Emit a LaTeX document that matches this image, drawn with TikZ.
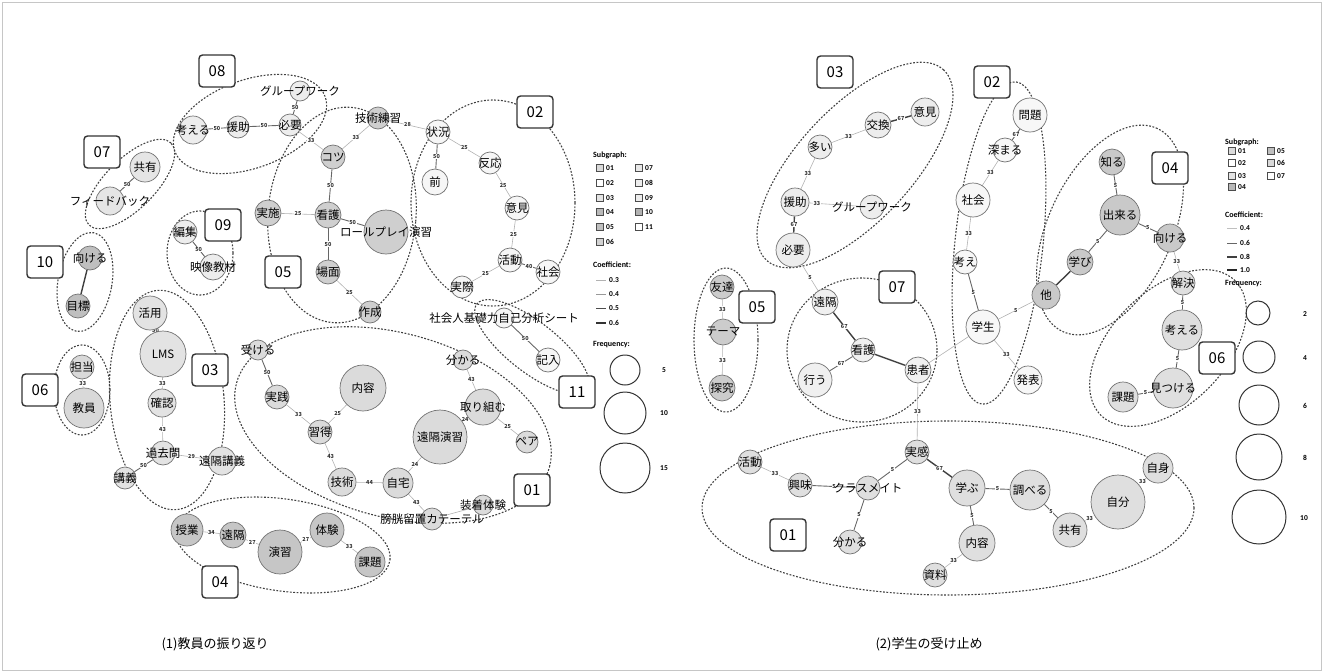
\documentclass[tikz,border=0pt]{standalone}
\usepackage{fontspec}
\setmainfont{Noto Sans CJK JP}
\newfontfamily\legfont{Carlito}
\pgfdeclarelayer{ell}
\pgfdeclarelayer{edges}
\pgfsetlayers{ell,edges,main}
\colorlet{L01}{gray!28}\colorlet{L02}{gray!7}\colorlet{L03}{gray!22}\colorlet{L04}{gray!45}
\colorlet{L05}{gray!38}\colorlet{L06}{gray!30}\colorlet{L07}{gray!20}\colorlet{L08}{gray!14}
\colorlet{L09}{gray!14}\colorlet{L10}{gray!50}\colorlet{L11}{gray!7}
\colorlet{R01}{gray!25}\colorlet{R02}{gray!6}\colorlet{R03}{gray!14}\colorlet{R04}{gray!42}
\colorlet{R05}{gray!40}\colorlet{R06}{gray!25}\colorlet{R07}{gray!12}
\tikzset{
 v/.style={circle, draw=black!55, line width=0.7pt, inner sep=0pt, font=\fontsize{11.5}{11.5}\selectfont},
 grp/.style={draw=black!75, line width=1.1pt, dash pattern=on 1.8pt off 1.6pt},
 gbox/.style={draw=black!80, line width=1.4pt, rounded corners=3.5pt, fill=white, minimum width=36pt, minimum height=32pt, inner sep=0pt, font=\fontsize{15}{15}\selectfont},
 ew/.style={draw=gray!60, line width=0.6pt},
 em/.style={draw=black!60, line width=0.9pt},
 es/.style={draw=black!75, line width=1.4pt},
 elab/.style={font=\fontsize{5.5}{5.5}\selectfont\bfseries, fill=white, inner sep=0.5pt, text=black!80},
 sq/.style={draw=black!70, line width=0.6pt, minimum size=7pt, inner sep=0pt},
 lgh/.style={anchor=west, inner sep=0pt, font=\legfont\fontsize{8}{8}\selectfont\bfseries},
 lgt/.style={anchor=west, inner sep=0pt, font=\legfont\fontsize{7.5}{7.5}\selectfont\bfseries},
 fc/.style={circle, draw=black!80, line width=1pt, inner sep=0pt},
}
\newcommand\V[6]{\node[v, fill=#5, minimum size=#4*2pt] (#1) at (#2,-#3) {\makebox[0pt]{#6}};}
\newcommand\B[4]{\node[gbox] (#1) at (#2,-#3) {#4};}
\newcommand\G[5]{\draw[grp, rotate around={#5:(#1,-#2)}] (#1,-#2) ellipse [x radius=#3pt, y radius=#4pt];}
\newcommand\E[4][ew]{\draw[#1] (#2) -- node[elab]{#4} (#3);}
\newcommand\EN[3][ew]{\draw[#1] (#2) -- (#3);}
\newcommand\LS[5]{\node[sq, fill=#4] (#1) at (#2,-#3) {};\node[lgt] (#1t) at (#2+6,-#3) {#5};}
\begin{document}
\begin{tikzpicture}[x=1pt,y=1pt]
\useasboundingbox (0,0) rectangle (1323,-672);
\draw[gray!45, line width=0.8pt] (2,-2) rectangle (1321,-670);

\begin{pgfonlayer}{ell}
\G{250}{124}{80}{44}{20}
\G{130}{184}{58}{25}{45}
\G{85}{282}{27}{50}{-10}
\G{200}{253}{33}{42}{0}
\G{82}{390}{28}{45}{0}
\G{167}{400}{57}{110}{5}
\G{342}{215}{74}{108}{-5}
\G{493}{203}{82}{103}{0}
\G{532}{347}{70}{25}{-38}
\G{393}{425}{162}{92}{-15}
\G{283}{545}{108}{46}{-8}
\G{855}{165}{130}{57}{47}
\G{726}{340}{32}{72}{0}
\G{862}{350}{75}{72}{0}
\G{999}{243}{44}{162}{-6}
\G{1110}{230}{112}{62}{65}
\G{1168}{348}{95}{57}{45}
\G{948}{508}{246}{87}{0}
\end{pgfonlayer}

% ---------------- LEFT GRAPH ----------------
\V{Lkangaeru}{193}{130}{14}{L08}{考える}
\V{Lenjo}{238}{127}{11}{L08}{援助}
\V{Lhitsuyo}{290}{125}{11}{L08}{必要}
\V{Lgw}{300}{91}{10}{L08}{グループワーク}
\V{Lkyoyu}{145}{167}{15}{L07}{共有}
\V{Lfb}{110}{201}{14}{L07}{フィードバック}
\V{Lmukeru}{90}{258}{12}{L10}{向ける}
\V{Lmokuhyo}{78}{306}{12}{L10}{目標}
\V{Lhenshu}{185}{232}{12}{L09}{編集}
\V{Leizo}{213}{267}{13}{L09}{映像教材}
\V{Ltanto}{82}{367}{12}{L06}{担当}
\V{Lkyoin}{84}{408}{20}{L06}{教員}
\V{Lkatsuyo}{150}{313}{17}{L03}{活用}
\V{Llms}{163}{354}{23}{L03}{LMS}
\V{Lkakunin}{162}{403}{14}{L03}{確認}
\V{Lkakomon}{163}{453}{12}{L03}{過去問}
\V{Lenkakukogi}{222}{461}{14}{L03}{遠隔講義}
\V{Lkogi}{125}{478}{11}{L03}{講義}
\V{Lgijutsurenshu}{378}{118}{11}{L05}{技術練習}
\V{Lkotsu}{333}{157}{12}{L05}{コツ}
\V{Ljisshi}{268}{213}{13}{L05}{実施}
\V{Lkango}{328}{215}{13}{L05}{看護}
\V{Lrp}{386}{232}{22}{L05}{ロールプレイ演習}
\V{Lbamen}{328}{272}{12}{L05}{場面}
\V{Lsakusei}{370}{312}{11}{L05}{作成}
\V{Ljokyo}{438}{132}{12}{L02}{状況}
\V{Lmae}{435}{182}{13}{L02}{前}
\V{Lhanno}{490}{163}{11}{L02}{反応}
\V{Liken}{517}{208}{12}{L02}{意見}
\V{Lkatsudo}{510}{260}{12}{L02}{活動}
\V{Lshakai}{548}{272}{12}{L02}{社会}
\V{Ljissai}{462}{287}{11}{L02}{実際}
\V{Lsheet}{504}{318}{10}{L11}{社会人基礎力自己分析シート}
\V{Lkinyu}{548}{360}{12}{L11}{記入}
\V{Lukeru}{258}{350}{10}{L01}{受ける}
\V{Ljissen}{277}{397}{12}{L01}{実践}
\V{Lnaiyo}{363}{388}{23}{L01}{内容}
\V{Lshutoku}{320}{432}{12}{L01}{習得}
\V{Lgijutsu}{342}{482}{14}{L01}{技術}
\V{Ljitaku}{398}{483}{15}{L01}{自宅}
\V{Lenkakuenshu}{440}{437}{27}{L01}{遠隔演習}
\V{Lwakaru}{463}{360}{10}{L01}{分かる}
\V{Ltorikumu}{483}{407}{18}{L01}{取り組む}
\V{Lpair}{527}{442}{11}{L01}{ペア}
\V{Lcatheter}{432}{519}{11}{L01}{膀胱留置カテーテル}
\V{Lsochaku}{483}{505}{10}{L01}{装着体験}
\V{Ljugyo}{187}{530}{16}{L04}{授業}
\V{Lenkaku}{233}{535}{13}{L04}{遠隔}
\V{Lenshu}{280}{552}{22}{L04}{演習}
\V{Ltaiken}{327}{530}{17}{L04}{体験}
\V{Lkadai}{370}{562}{15}{L04}{課題}

\begin{pgfonlayer}{edges}
\E[em]{Lkangaeru}{Lenjo}{50}
\E[em]{Lenjo}{Lhitsuyo}{50}
\E[em]{Lhitsuyo}{Lgw}{50}
\E{Lhitsuyo}{Lkotsu}{33}
\E[em]{Lkyoyu}{Lfb}{50}
\EN[es]{Lmukeru}{Lmokuhyo}
\E[em]{Lhenshu}{Leizo}{50}
\E{Ltanto}{Lkyoin}{33}
\E[em]{Lkatsuyo}{Llms}{50}
\E{Llms}{Lkakunin}{33}
\E{Lkakunin}{Lkakomon}{43}
\E[em]{Lkogi}{Lkakomon}{50}
\E{Lkakomon}{Lenkakukogi}{29}
\E{Lgijutsurenshu}{Lkotsu}{33}
\E{Lgijutsurenshu}{Ljokyo}{28}
\E[em]{Ljokyo}{Lmae}{50}
\E{Ljokyo}{Lhanno}{25}
\E{Lhanno}{Liken}{25}
\E{Liken}{Lkatsudo}{25}
\E[em]{Lkatsudo}{Lshakai}{40}
\E{Lkatsudo}{Ljissai}{25}
\E{Ljisshi}{Lkango}{25}
\E[em]{Lkotsu}{Lkango}{50}
\E[em]{Lkango}{Lrp}{50}
\E[em]{Lkango}{Lbamen}{50}
\E{Lbamen}{Lsakusei}{25}
\E[em]{Lsheet}{Lkinyu}{50}
\E[em]{Lukeru}{Ljissen}{50}
\E{Ljissen}{Lshutoku}{33}
\E{Lshutoku}{Lnaiyo}{25}
\E{Lshutoku}{Lgijutsu}{43}
\E{Lgijutsu}{Ljitaku}{44}
\E{Ljitaku}{Lenkakuenshu}{24}
\E{Ljitaku}{Lcatheter}{43}
\E{Lwakaru}{Ltorikumu}{43}
\E{Ltorikumu}{Lenkakuenshu}{24}
\E{Ltorikumu}{Lpair}{25}
\EN{Lcatheter}{Lsochaku}
\E{Ljugyo}{Lenkaku}{34}
\E{Lenkaku}{Lenshu}{27}
\E{Lenshu}{Ltaiken}{27}
\E{Ltaiken}{Lkadai}{33}
\end{pgfonlayer}

\B{Lb08}{217}{71}{08}
\B{Lb07}{102}{152}{07}
\B{Lb10}{45}{262}{10}
\B{Lb09}{223}{225}{09}
\B{Lb06}{40}{390}{06}
\B{Lb03}{210}{370}{03}
\B{Lb05}{283}{272}{05}
\B{Lb02}{535}{112}{02}
\B{Lb11}{577}{392}{11}
\B{Lb01}{532}{490}{01}
\B{Lb04}{220}{582}{04}

% left legend
\node[lgh] (LlegS) at (593,-155) {Subgraph:};
\LS{Lq01}{600}{168}{gray!30}{01}
\LS{Lq02}{600}{183}{white}{02}
\LS{Lq03}{600}{198}{gray!22}{03}
\LS{Lq04}{600}{212}{gray!55}{04}
\LS{Lq05}{600}{227}{gray!50}{05}
\LS{Lq06}{600}{242}{gray!35}{06}
\LS{Lq07}{639}{168}{gray!18}{07}
\LS{Lq08}{639}{183}{gray!14}{08}
\LS{Lq09}{639}{198}{gray!14}{09}
\LS{Lq10}{639}{212}{gray!60}{10}
\LS{Lq11}{639}{227}{white}{11}
\node[lgh] (LlegC) at (593,-265) {Coefficient:};
\draw[gray!60, line width=0.5pt] (596,-280) -- (606,-280);
\draw[gray!80, line width=0.7pt] (596,-294) -- (606,-294);
\draw[black!70, line width=0.9pt] (596,-308) -- (606,-308);
\draw[black!80, line width=1.1pt] (596,-323) -- (606,-323);
\node[lgt] (Lc3) at (609,-280) {0.3};
\node[lgt] (Lc4) at (609,-294) {0.4};
\node[lgt] (Lc5) at (609,-308) {0.5};
\node[lgt] (Lc6) at (609,-323) {0.6};
\node[lgh] (LlegF) at (593,-345) {Frequency:};
\node[fc, minimum size=30pt] (Lf5) at (625,-370) {};
\node[fc, minimum size=42pt] (Lf10) at (625,-413) {};
\node[fc, minimum size=50pt] (Lf15) at (625,-468) {};
\node[lgt] (Lf5t) at (662,-370) {5};
\node[lgt] (Lf10t) at (660,-413) {10};
\node[lgt] (Lf15t) at (660,-468) {15};

% ---------------- RIGHT GRAPH ----------------
\V{Riken}{925}{112}{14}{R03}{意見}
\V{Rkokan}{878}{125}{13}{R03}{交換}
\V{Rooi}{820}{147}{12}{R03}{多い}
\V{Renjo}{795}{202}{14}{R03}{援助}
\V{Rgw}{872}{207}{12}{R03}{グループワーク}
\V{Rhitsuyo}{793}{250}{17}{R03}{必要}
\V{Rtomodachi}{722}{287}{12}{R05}{友達}
\V{Rtheme}{723}{332}{13}{R05}{テーマ}
\V{Rtankyu}{722}{388}{13}{R05}{探究}
\V{Renkaku}{825}{302}{13}{R07}{遠隔}
\V{Rkango}{863}{350}{12}{R07}{看護}
\V{Rokonau}{815}{380}{17}{R07}{行う}
\V{Rkanja}{918}{370}{13}{R07}{患者}
\V{Rmondai}{1030}{115}{17}{R02}{問題}
\V{Rfukamaru}{1005}{150}{12}{R02}{深まる}
\V{Rshakai}{973}{200}{17}{R02}{社会}
\V{Rkangae}{965}{262}{12}{R02}{考え}
\V{Rgakusei}{983}{327}{17}{R02}{学生}
\V{Rhappyo}{1028}{380}{14}{R02}{発表}
\V{Rhoka}{1046}{295}{14}{R04}{他}
\V{Rmanabi}{1080}{262}{13}{R04}{学び}
\V{Rdekiru}{1120}{215}{20}{R04}{出来る}
\V{Rshiru}{1112}{162}{13}{R04}{知る}
\V{Rmukeru}{1170}{238}{14}{R04}{向ける}
\V{Rkaiketsu}{1183}{283}{12}{R06}{解決}
\V{Rkangaeru}{1182}{330}{20}{R06}{考える}
\V{Rmitsukeru}{1173}{388}{20}{R06}{見つける}
\V{Rkadai}{1123}{397}{15}{R06}{課題}
\V{Rjikkan}{917}{452}{12}{R01}{実感}
\V{Rkatsudo}{750}{462}{12}{R01}{活動}
\V{Rkyomi}{800}{485}{12}{R01}{興味}
\V{Rclassmate}{868}{488}{12}{R01}{クラスメイト}
\V{Rmanabu}{967}{488}{18}{R01}{学ぶ}
\V{Rwakaru}{850}{542}{12}{R01}{分かる}
\V{Rnaiyo}{977}{543}{18}{R01}{内容}
\V{Rshiryo}{935}{575}{12}{R01}{資料}
\V{Rshiraberu}{1030}{490}{20}{R01}{調べる}
\V{Rkyoyu}{1070}{530}{17}{R01}{共有}
\V{Rjibun}{1118}{502}{27}{R01}{自分}
\V{Rjishin}{1158}{468}{15}{R01}{自身}

\begin{pgfonlayer}{edges}
\E[es]{Rkokan}{Riken}{67}
\E{Rooi}{Rkokan}{33}
\E{Rooi}{Renjo}{33}
\draw[ew] (Renjo) -- node[elab, pos=0.15]{33} (Rgw);
\E[es]{Renjo}{Rhitsuyo}{67}
\E{Rhitsuyo}{Renkaku}{5}
\E{Rtomodachi}{Rtheme}{33}
\E{Rtheme}{Rtankyu}{33}
\E[es]{Renkaku}{Rkango}{67}
\E[em]{Rkango}{Rokonau}{67}
\EN[es]{Rkango}{Rkanja}
\EN{Rkanja}{Rgakusei}
\E{Rkanja}{Rjikkan}{33}
\E[em]{Rjikkan}{Rclassmate}{5}
\E[es]{Rjikkan}{Rmanabu}{67}
\E{Rkatsudo}{Rkyomi}{33}
\E[em]{Rkyomi}{Rclassmate}{5}
\E[em]{Rclassmate}{Rwakaru}{5}
\E[em]{Rmanabu}{Rnaiyo}{5}
\E[em]{Rmanabu}{Rshiraberu}{5}
\E{Rnaiyo}{Rshiryo}{33}
\E[em]{Rshiraberu}{Rkyoyu}{5}
\E{Rkyoyu}{Rjibun}{33}
\E{Rjibun}{Rjishin}{33}
\E[em]{Rmondai}{Rfukamaru}{67}
\E{Rfukamaru}{Rshakai}{33}
\E{Rshakai}{Rkangae}{33}
\E[em]{Rkangae}{Rgakusei}{5}
\E{Rgakusei}{Rhoka}{5}
\E{Rgakusei}{Rhappyo}{33}
\EN[es]{Rhoka}{Rmanabi}
\E[em]{Rmanabi}{Rdekiru}{5}
\E[em]{Rdekiru}{Rshiru}{5}
\E[em]{Rdekiru}{Rmukeru}{5}
\E{Rmukeru}{Rkaiketsu}{33}
\E[em]{Rkaiketsu}{Rkangaeru}{5}
\E[em]{Rkangaeru}{Rmitsukeru}{5}
\E[em]{Rkadai}{Rmitsukeru}{5}
\end{pgfonlayer}

\B{Rb03}{835}{72}{03}
\B{Rb02}{992}{82}{02}
\B{Rb04}{1170}{168}{04}
\B{Rb05}{757}{307}{05}
\B{Rb07}{897}{287}{07}
\B{Rb06}{1217}{358}{06}
\B{Rb01}{788}{535}{01}

% right legend
\node[lgh] (RlegS) at (1225,-142) {Subgraph:};
\LS{Rq01}{1232}{151}{gray!28}{01}
\LS{Rq02}{1232}{163}{white}{02}
\LS{Rq03}{1232}{176}{gray!22}{03}
\LS{Rq04}{1232}{187}{gray!55}{04}
\LS{Rq05}{1271}{151}{gray!50}{05}
\LS{Rq06}{1271}{163}{gray!30}{06}
\LS{Rq07}{1271}{176}{white}{07}
\node[lgh] (RlegC) at (1225,-215) {Coefficient:};
\draw[gray!50, line width=0.5pt] (1227,-228) -- (1237,-228);
\draw[black!60, line width=0.8pt] (1227,-243) -- (1237,-243);
\draw[black!75, line width=1.1pt] (1227,-257) -- (1237,-257);
\draw[black!85, line width=1.4pt] (1227,-270) -- (1237,-270);
\node[lgt] (Rc4) at (1240,-228) {0.4};
\node[lgt] (Rc6) at (1240,-243) {0.6};
\node[lgt] (Rc8) at (1240,-257) {0.8};
\node[lgt] (Rc10) at (1240,-270) {1.0};
\node[lgh] (RlegF) at (1225,-284) {Frequency:};
\node[fc, minimum size=24pt] (Rf2) at (1258,-313) {};
\node[fc, minimum size=32pt] (Rf4) at (1259,-357) {};
\node[fc, minimum size=40pt] (Rf6) at (1259,-405) {};
\node[fc, minimum size=46pt] (Rf8) at (1259,-457) {};
\node[fc, minimum size=54pt] (Rf10) at (1259,-517) {};
\node[lgt] (Rf2t) at (1303,-314) {2};
\node[lgt] (Rf4t) at (1303,-358) {4};
\node[lgt] (Rf6t) at (1303,-406) {6};
\node[lgt] (Rf8t) at (1303,-458) {8};
\node[lgt] (Rf10t) at (1300,-518) {10};

% captions
\node[font=\fontsize{13}{13}\selectfont] (cap1) at (215,-644) {(1)教員の振り返り};
\node[font=\fontsize{13}{13}\selectfont] (cap2) at (929,-644) {(2)学生の受け止め};
\end{tikzpicture}
\end{document}
